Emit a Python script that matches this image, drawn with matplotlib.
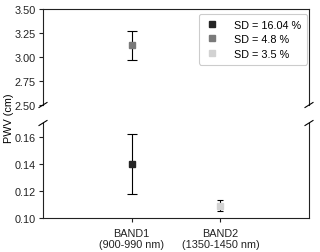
import matplotlib
matplotlib.use("Agg")
import matplotlib.pyplot as plt

plt.rcParams['font.family'] = ['Liberation Sans', 'DejaVu Sans']
plt.rcParams['font.size'] = 7.8

categories = ["BAND1\n(900-990 nm)", "BAND2\n(1350-1450 nm)"]
positions = [1, 2]
sd_labels = ["SD = 16.04 %", "SD = 4.8 %", "SD = 3.5 %"]
sd_x = [1, 1, 2]
sd_values = [0.14, 3.12, 0.109]
sd_errors = [0.022, 0.15, 0.004]
sd_colors = ["#252525", "#7a7a7a", "#d2d2d2"]
sd_caps = [3.3, 3.3, 2.2]

fig = plt.figure(figsize=(3.2, 2.53), dpi=100)
left, right = 43/320, 309/320
ax_top = fig.add_axes([left, 1-106/253, right-left, (106-10)/253])
ax_bot = fig.add_axes([left, 1-219/253, right-left, (219-124)/253])

handles = []
for x, v, e, lab, c, cs in zip(sd_x, sd_values, sd_errors, sd_labels, sd_colors, sd_caps):
    for ax in (ax_top, ax_bot):
        ax.errorbar(x, v, yerr=e, fmt='none', ecolor='black', elinewidth=0.8,
                    capsize=cs, capthick=0.8, zorder=2)
        ax.plot(x, v, marker='s', ms=4.5, color=c, ls='none', zorder=3)
    h, = ax_top.plot([], [], marker='s', ms=4, color=c, ls='none', label=lab)
    handles.append(h)

ax_top.set_ylim(2.5, 3.5)
ax_bot.set_ylim(0.10, 0.17)
for ax in (ax_top, ax_bot):
    ax.set_xlim(0, 3)
    for s in ax.spines.values():
        s.set_linewidth(0.8)
        s.set_color('#222222')
    ax.tick_params(direction='out', length=3, width=0.8, pad=2, colors='#222222')

ax_top.spines['bottom'].set_visible(False)
ax_top.set_xticks([])
ax_top.set_yticks([2.5, 2.75, 3.0, 3.25, 3.5])
ax_top.set_yticklabels(['2.50', '2.75', '3.00', '3.25', '3.50'])

ax_bot.spines['top'].set_visible(False)
ax_bot.set_yticks([0.10, 0.12, 0.14, 0.16])
ax_bot.set_yticklabels(['0.10', '0.12', '0.14', '0.16'])
ax_bot.set_xticks(positions)
ax_bot.set_xticklabels(categories, linespacing=1.1)
ax_bot.tick_params(axis='x', pad=4)

# break marks
dx, dy = 4/320, 2.5/253
kw = dict(transform=fig.transFigure, color='black', lw=0.8, clip_on=False)
for xs in (left, right):
    yb = 1-106/253
    fig.add_artist(plt.Line2D([xs-dx, xs+dx], [yb-dy, yb+dy], **kw))
    yt = 1-124/253
    fig.add_artist(plt.Line2D([xs-dx, xs+dx], [yt-dy, yt+dy], **kw))

fig.text(9/320, 1-118/253, 'PWV (cm)', rotation=90, ha='center', va='center')

leg = ax_top.legend(handles=handles, loc='upper right', frameon=True, fancybox=True,
                    edgecolor='#cccccc', framealpha=1, handletextpad=1.3,
                    labelspacing=0.4, borderpad=0.55, handlelength=1.4,
                    borderaxespad=0, bbox_to_anchor=(0.9925, 0.948))
leg.get_frame().set_linewidth(0.8)

fig.savefig('out.png', dpi=100)
